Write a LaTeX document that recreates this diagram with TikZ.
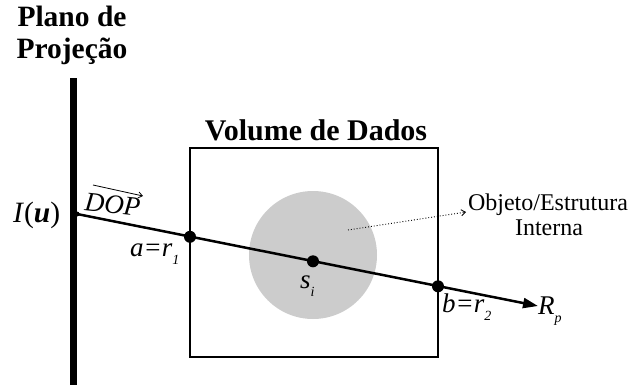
\documentclass[tikz,border=0pt]{standalone}
\usepackage{fontspec}
\setmainfont{Liberation Serif}
\usetikzlibrary{arrows.meta}
\newcommand{\lowsub}[1]{\raisebox{-0.32em}{\fontsize{14}{14}\selectfont\itshape #1}}
\begin{document}
\begin{tikzpicture}[x=1pt,y=-1pt,
  titletext/.style={font=\fontsize{29.5}{32}\selectfont\bfseries, anchor=base, inner sep=0},
  plaintext/.style={font=\fontsize{24}{26}\selectfont, anchor=base, inner sep=0},
  itlabel/.style={font=\fontsize{27}{29}\selectfont\itshape, anchor=base west, inner sep=0},
  bigdot/.style={circle, fill=black, inner sep=0, minimum size=12pt},
  smalldot/.style={circle, fill=black, inner sep=0, minimum size=5pt}]
\useasboundingbox (0,0) rectangle (635,389);

% projection plane
\coordinate (ptop) at (73.5,78);
\coordinate (pbot) at (73.5,385);
\draw[line width=7pt] (ptop) -- (pbot);
\node[titletext] (pl1) at (72,26) {Plano de};
\node[titletext] (pl2) at (72,58) {Projeção};

% data volume
\node[draw, line width=2pt, minimum width=248pt, minimum height=209pt, inner sep=0] (vol) at (314,252.5) {};
\node[titletext, font=\fontsize{30}{32}\selectfont\bfseries] (voltitle) at (316,140) {Volume de Dados};

% internal object
\node[circle, fill=black!20, minimum size=128pt, inner sep=0] (obj) at (313,255) {};

% ray points
\coordinate (I) at (77,214);
\node[bigdot] (a) at (190,236.8) {};
\node[bigdot] (s) at (313,261.3) {};
\node[bigdot] (b) at (438,286.3) {};
\coordinate (E) at (538,306);
\draw[line width=2.5pt, -{Triangle[length=15pt,width=10pt]}] (I) -- (E);
\node[smalldot] (Idot) at (I) {};

% dotted pointer
\coordinate (ptr) at (348,230);
\coordinate (ptrtip) at (466,212);
\draw[dotted, line width=0.9pt, -{Straight Barb[length=4pt,width=6pt]}] (ptr) -- (ptrtip);
\node[plaintext] (objl1) at (548,210) {Objeto/Estrutura};
\node[plaintext] (objl2) at (549,235) {Interna};

% labels
\node[font=\fontsize{29.5}{31}\selectfont, anchor=base west, inner sep=0] (Iu) at (13,222) {\textit{I}(\textbf{\textit{u}})};
\node[itlabel, rotate=-6, anchor=base west] (dop) at (84,210) {DOP};
\coordinate (dopA) at (93,185);
\coordinate (dopB) at (143,196);
\draw[line width=0.8pt, -{Straight Barb[length=4pt,width=6pt]}] (dopA) -- (dopB);
\node[itlabel] (al) at (130,256) {a=r\lowsub{1}};
\node[itlabel] (sl) at (300,288) {s\lowsub{i}};
\node[itlabel] (bl) at (442,312) {b=r\lowsub{2}};
\node[itlabel] (rl) at (538,314) {R\lowsub{p}};
\end{tikzpicture}
\end{document}
